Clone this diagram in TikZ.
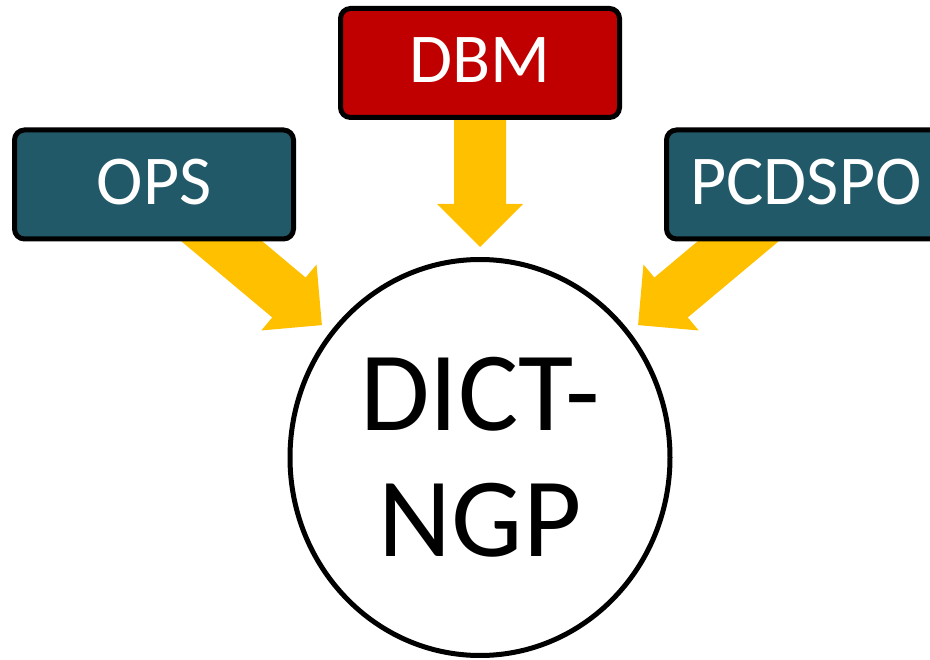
\documentclass[tikz,border=0pt]{standalone}
\usepackage{fontspec}
\setmainfont{Carlito}
\usetikzlibrary{calc,shapes.geometric}
\definecolor{dbmred}{HTML}{C00000}
\definecolor{boxteal}{HTML}{215968}
\definecolor{arrowyellow}{HTML}{FFC000}
\pgfdeclarelayer{bg}
\pgfsetlayers{bg,main}
\newcommand{\blockarr}[2]{%
  \coordinate (hb) at ($(#2)!43pt!(#1)$);
  \fill[arrowyellow] ($(#1)!26pt!90:(#2)$) -- ($(hb)!26pt!90:(#2)$) -- ($(hb)!43pt!90:(#2)$) -- (#2)
    -- ($(hb)!43pt!-90:(#2)$) -- ($(hb)!26pt!-90:(#2)$) -- ($(#1)!26pt!-90:(#2)$) -- cycle;
}
\tikzset{
  srcbox/.style={draw=black, line width=5pt, rounded corners=10pt, minimum width=279pt,
    minimum height=109pt, inner sep=0pt, text=white, text depth=6pt,
    font=\fontsize{70}{80}\selectfont},
  hub/.style={ellipse, draw=black, line width=5pt, fill=white, minimum width=380pt,
    minimum height=396pt, inner sep=0pt, align=center,
    font=\fontsize{113}{126}\selectfont}
}
\begin{document}
\begin{tikzpicture}[x=1pt,y=-1pt]
\useasboundingbox (0,0) rectangle (930,660);
\clip (0,0) rectangle (930,660);
\node[hub] (dict) at (480,457.5) {DICT-\\NGP};
\node[srcbox, fill=dbmred] (dbm) at (480,63) {DBM};
\node[srcbox, fill=boxteal] (ops) at (154,184.5) {OPS};
\node[srcbox, fill=boxteal] (pcd) at (806,184.5) {PCDSPO};
\coordinate (dbmtip) at ($(dbm.center)!184pt!(dict.center)$);
\coordinate (opstip) at ($(ops.center)!219pt!(dict.center)$);
\coordinate (pcdtip) at ($(pcd.center)!219pt!(dict.center)$);
\begin{pgfonlayer}{bg}
\blockarr{dbm.center}{dbmtip}
\blockarr{ops.center}{opstip}
\blockarr{pcd.center}{pcdtip}
\end{pgfonlayer}
\end{tikzpicture}
\end{document}
